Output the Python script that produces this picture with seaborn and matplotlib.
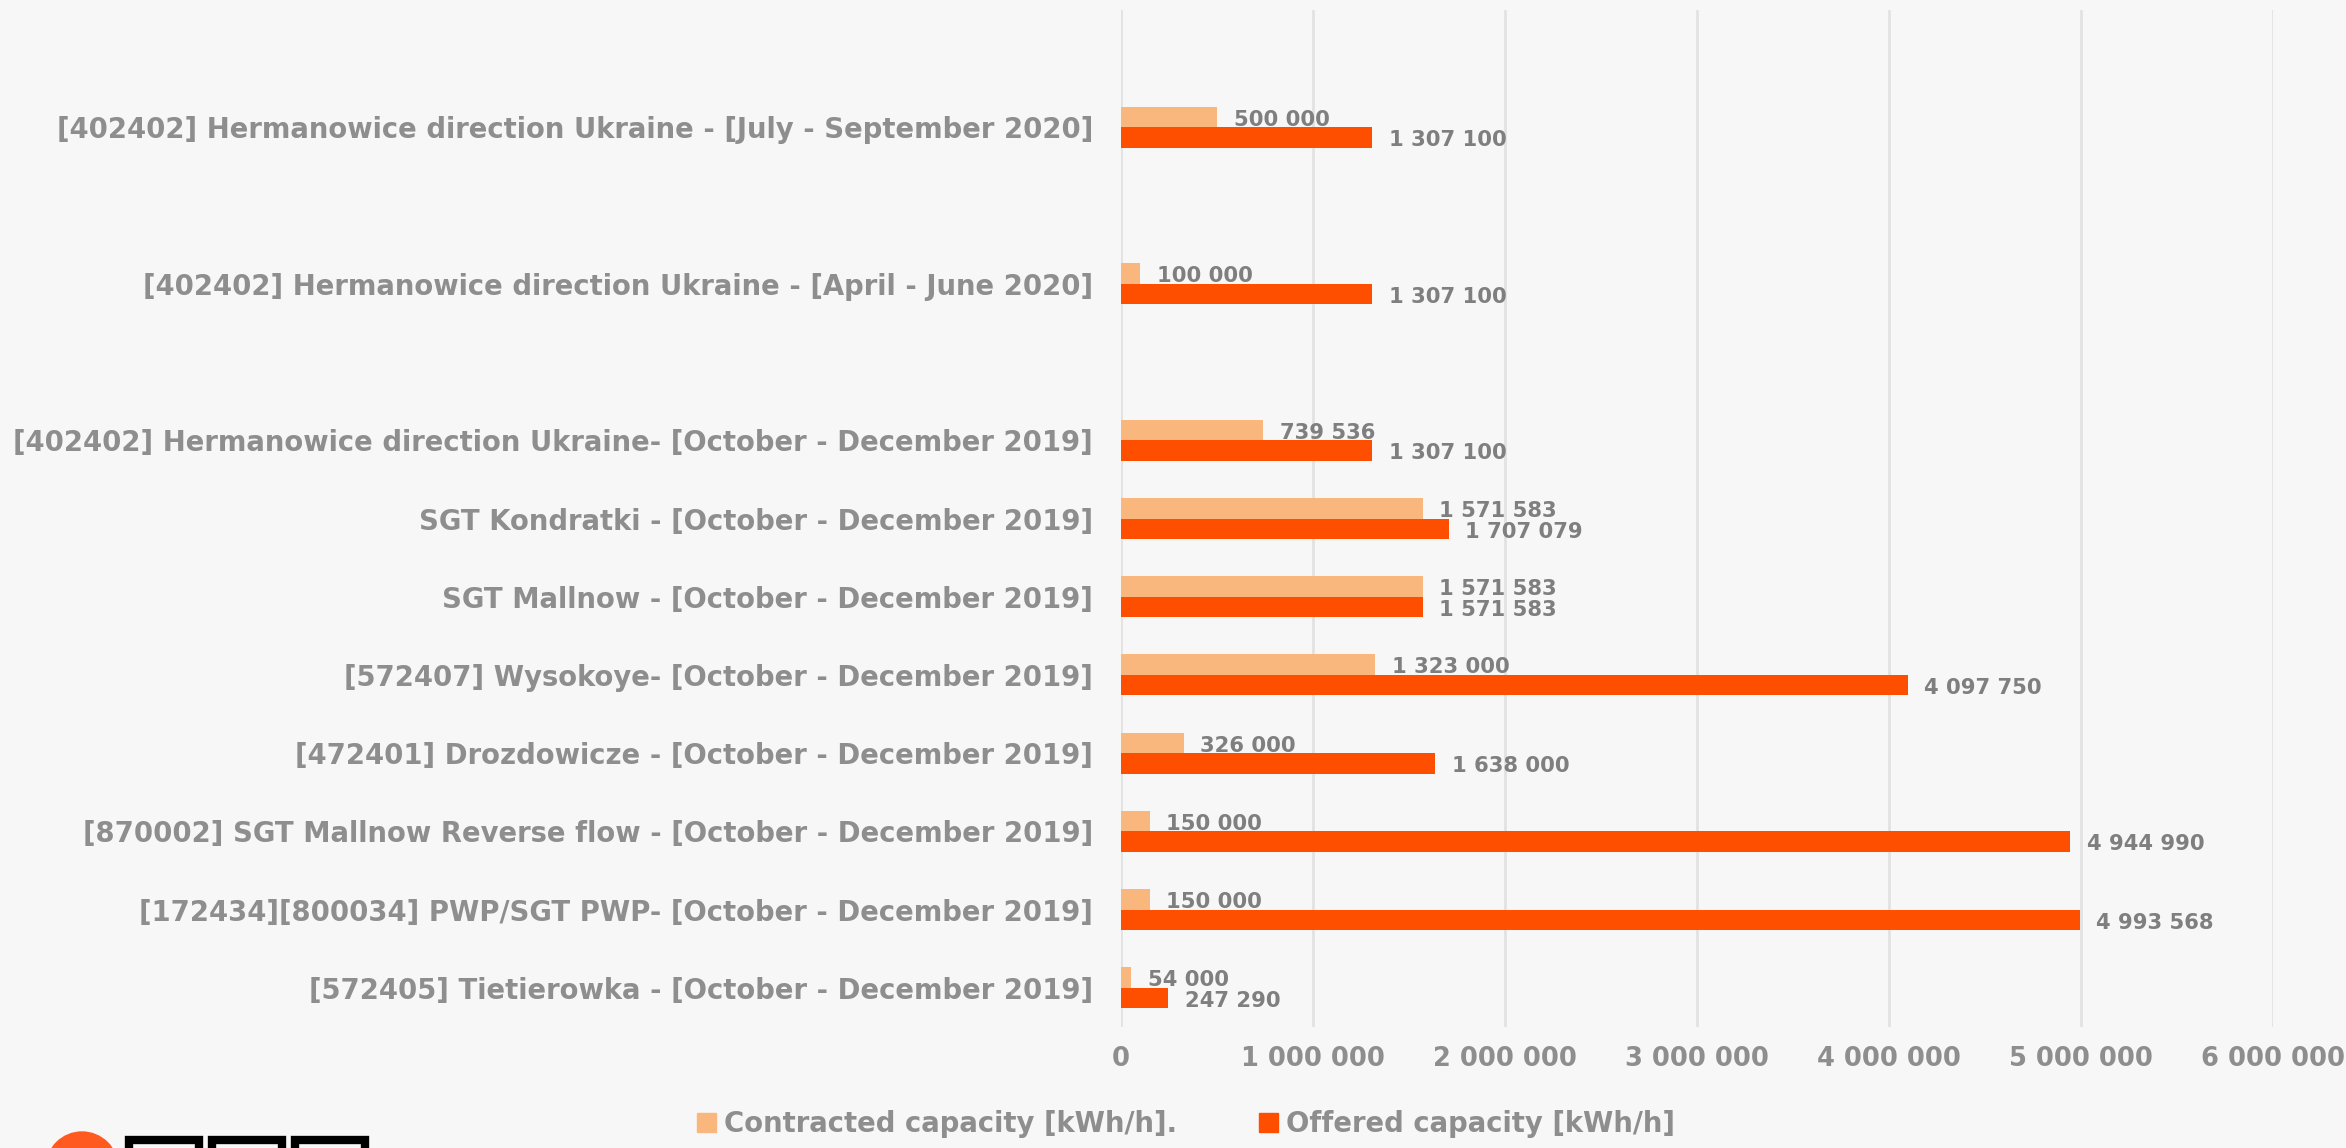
import numpy as np
import pandas as pd
import matplotlib.pyplot as plt
import seaborn as sns
from matplotlib.patches import Ellipse, Rectangle

# Categories top to bottom; blank rows are empty slots in the original chart
categories = [
    " ",
    "[402402] Hermanowice direction Ukraine - [July - September 2020]",
    "  ",
    "[402402] Hermanowice direction Ukraine - [April - June 2020]",
    "   ",
    "[402402] Hermanowice direction Ukraine- [October - December 2019]",
    "SGT Kondratki - [October - December 2019]",
    "SGT Mallnow - [October - December 2019]",
    "[572407] Wysokoye- [October - December 2019]",
    "[472401] Drozdowicze - [October - December 2019]",
    "[870002] SGT Mallnow Reverse flow - [October - December 2019]",
    "[172434][800034] PWP/SGT PWP- [October - December 2019]",
    "[572405] Tietierowka - [October - December 2019]",
]
contracted = [np.nan, 500000, np.nan, 100000, np.nan, 739536, 1571583, 1571583,
              1323000, 326000, 150000, 150000, 54000]
offered = [np.nan, 1307100, np.nan, 1307100, np.nan, 1307100, 1707079, 1571583,
           4097750, 1638000, 4944990, 4993568, 247290]
series = ["Contracted capacity [kWh/h].", "Offered capacity [kWh/h]"]
colors = ["#F9B77D", "#FE4E00"]

df = pd.DataFrame({
    "category": categories * 2,
    "value": contracted + offered,
    "series": [series[0]] * len(categories) + [series[1]] * len(categories),
}).dropna()

bg = "#F7F7F7"
label_gray = "#8E8E8E"
value_gray = "#7F7F7F"

sns.set_theme(style="whitegrid")
plt.rcParams["font.family"] = ["DejaVu Sans"]

W, H = 2346, 1148
fig = plt.figure(figsize=(W / 100, H / 100), dpi=100, facecolor=bg)
ax = fig.add_axes([1121 / W, 1 - 1027 / H, (2273 - 1121) / W, (1027 - 10) / H])
ax.set_facecolor(bg)

sns.barplot(data=df, x="value", y="category", hue="series", order=categories,
            hue_order=series, palette=colors, width=0.525, gap=0,
            linewidth=0, saturation=1, orient="h", ax=ax, legend=False)

ax.set_xlim(0, 6000000)
ax.set_xticks(range(0, 6000001, 1000000))
ax.set_xticklabels([f"{v:,}".replace(",", " ") for v in range(0, 6000001, 1000000)],
                   fontsize=18.5, fontweight="bold", color=label_gray)
ax.tick_params(axis="x", pad=14, length=0)
ax.tick_params(axis="y", pad=20, length=0)
for t in ax.get_yticklabels():
    t.set_fontsize(19.8)
    t.set_fontweight("bold")
    t.set_color(label_gray)
ax.set_xlabel("")
ax.set_ylabel("")
ax.grid(axis="x", color="#E2E2E2", linewidth=2)
ax.grid(axis="y", visible=False)
for s in ax.spines.values():
    s.set_visible(False)

# value labels just past the bar ends, nudged a little down like the original
for cont in ax.containers:
    for bar in cont:
        w = bar.get_width()
        if np.isnan(w):
            continue
        ax.annotate(f"{w:,.0f}".replace(",", " "),
                    (w, bar.get_y() + bar.get_height() / 2),
                    xytext=(12, -2), textcoords="offset points",
                    ha="left", va="center", fontsize=15.2,
                    fontweight="bold", color=value_gray)

handles = [Rectangle((0, 0), 1, 1, color=c) for c in colors]
fig.legend(handles, series, loc="center", bbox_to_anchor=(1186 / W, 1 - 1124 / H),
           ncol=2, frameon=False, handlelength=0.7, handleheight=0.7,
           handletextpad=0.3, columnspacing=2.95,
           prop={"size": 19.8, "weight": "bold"}, labelcolor=label_gray)

# partial company logo in the lower left corner
def px(x, y):
    return x / W, 1 - y / H

fig.add_artist(Ellipse(px(82, 1168), 72 / W, 72 / H, color="#FF5A1F",
                       transform=fig.transFigure))
for x0 in (125, 208, 291):
    fig.add_artist(Rectangle(px(x0 + 4, 1180), 70 / W, 40 / H, fill=False,
                             edgecolor="black", linewidth=6,
                             transform=fig.transFigure))

fig.savefig("out.png", dpi=100, facecolor=bg)
